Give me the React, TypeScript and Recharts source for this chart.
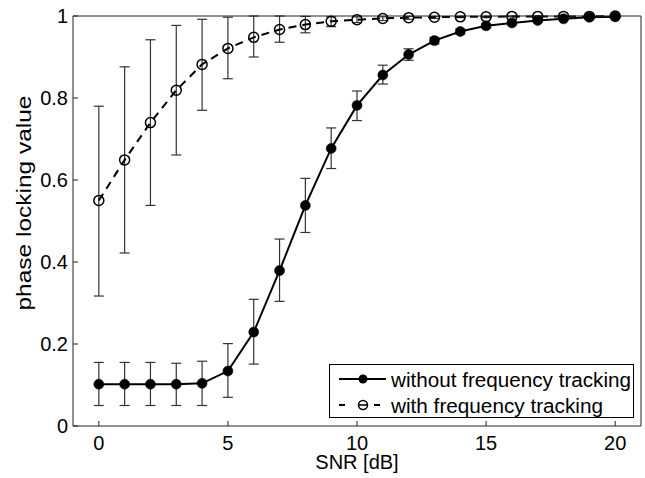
import React from "react";
import { LineChart, Line, XAxis, YAxis, ErrorBar } from "recharts";

/* Data */

const snr = [0, 1, 2, 3, 4, 5, 6, 7, 8, 9, 10, 11, 12, 13, 14, 15, 16, 17, 18, 19, 20];

// without frequency tracking (filled markers)
const plvWithout = [
  0.102, 0.102, 0.102, 0.102, 0.104, 0.134, 0.229, 0.379, 0.538, 0.677, 0.782,
  0.856, 0.906, 0.94, 0.962, 0.976, 0.983, 0.989, 0.993, 0.997, 0.998,
];
const withoutLower = [
  0.05, 0.05, 0.05, 0.05, 0.05, 0.07, 0.151, 0.304, 0.472, 0.628, 0.745,
  0.834, 0.892, 0.932, 0.956, 0.971, 0.979, 0.986, 0.991, 0.996, 0.997,
];
const withoutUpper = [
  0.155, 0.155, 0.155, 0.153, 0.158, 0.201, 0.309, 0.456, 0.604, 0.727, 0.817,
  0.88, 0.92, 0.948, 0.968, 0.98, 0.987, 0.992, 0.995, 0.998, 0.999,
];

// with frequency tracking (open markers)
const plvWith = [
  0.55, 0.649, 0.74, 0.819, 0.882, 0.921, 0.948, 0.967, 0.979, 0.987, 0.991,
  0.994, 0.996, 0.997, 0.998, 0.998, 0.999, 0.999, 0.999, 0.999, 1.0,
];
const withLower = [
  0.317, 0.422, 0.538, 0.661, 0.77, 0.847, 0.9, 0.936, 0.959, 0.974, 0.984,
  0.989, 0.992, 0.994, 0.996, 0.996, 0.998, 0.998, 0.998, 0.998, 0.999,
];
const withUpper = [
  0.78, 0.876, 0.942, 0.977, 0.992, 0.997, 1.0, 1.0, 0.999, 0.998, 0.998,
  0.998, 0.999, 0.999, 0.999, 0.999, 1.0, 1.0, 1.0, 1.0, 1.0,
];

const xTicks = [0, 5, 10, 15, 20];
const yTicks = [0, 0.2, 0.4, 0.6, 0.8, 1];

const legendLabels = ["without frequency tracking", "with frequency tracking"];

/* Table for recharts; error bars as [below, above] deltas */
const data = snr.map((x, i) => ({
  snr: x,
  without: plvWithout[i],
  withoutErr: [plvWithout[i] - withoutLower[i], withoutUpper[i] - plvWithout[i]],
  with: plvWith[i],
  withErr: [plvWith[i] - withLower[i], withUpper[i] - plvWith[i]],
}));

const FONT = '"Liberation Sans", Arial, Helvetica, sans-serif';
const AXIS = "#222";
const tickStyle = { fill: "#000", fontSize: 20, fontFamily: FONT };

function YLabel() {
  return (
    <text
      x={31}
      y={203}
      transform="rotate(-90, 31, 203)"
      textAnchor="middle"
      fontSize={20}
      fontFamily={FONT}
      fill="#000"
      textLength={215}
      lengthAdjust="spacingAndGlyphs"
    >
      phase locking value
    </text>
  );
}

function XLabel(props: any) {
  const vb = props.viewBox || { x: 0, width: 0 };
  return (
    <text
      x={vb.x + vb.width / 2}
      y={469}
      textAnchor="middle"
      fontSize={20}
      fontFamily={FONT}
      fill="#000"
    >
      SNR [dB]
    </text>
  );
}

function LegendBox() {
  return (
    <div
      style={{
        position: "absolute",
        left: 329,
        top: 364,
        width: 305,
        height: 54,
        boxSizing: "border-box",
        border: "1px solid #000",
        background: "#fff",
      }}
    >
      <svg width={303} height={52} style={{ display: "block" }}>
        {/* solid, filled */}
        <line x1={9} y1={14} x2={56} y2={14} stroke="#000" strokeWidth={2} />
        <circle cx={33} cy={14} r={4.5} fill="#000" />
        <text
          x={61}
          y={22}
          fontSize={20}
          fontFamily={FONT}
          fill="#000"
          textLength={240}
          lengthAdjust="spacingAndGlyphs"
        >
          {legendLabels[0]}
        </text>
        {/* dashed, open */}
        <line x1={9} y1={40} x2={15} y2={40} stroke="#000" strokeWidth={2} />
        <line x1={29} y1={40} x2={37} y2={40} stroke="#000" strokeWidth={1.5} />
        <line x1={44} y1={40} x2={50} y2={40} stroke="#000" strokeWidth={2} />
        <circle cx={33} cy={40} r={4.5} fill="none" stroke="#000" strokeWidth={1.5} />
        <text
          x={61}
          y={48}
          fontSize={20}
          fontFamily={FONT}
          fill="#000"
          textLength={212}
          lengthAdjust="spacingAndGlyphs"
        >
          {legendLabels[1]}
        </text>
      </svg>
    </div>
  );
}

export default function App() {
  return (
    <div
      style={{
        position: "absolute",
        left: 0,
        top: 0,
        width: 645,
        height: 478,
        background: "#fff",
        fontFamily: FONT,
      }}
    >
      <LineChart
        width={645}
        height={478}
        data={data}
        margin={{ top: 6, right: 0, bottom: 0, left: 0 }}
      >
        <XAxis
          dataKey="snr"
          type="number"
          domain={[-1, 21]}
          ticks={xTicks}
          height={52}
          tickSize={-5}
          tickMargin={15}
          tick={tickStyle}
          stroke={AXIS}
          interval={0}
          label={<XLabel />}
        />
        <XAxis
          xAxisId="top"
          dataKey="snr"
          type="number"
          orientation="top"
          domain={[-1, 21]}
          ticks={xTicks}
          height={10}
          tickSize={-5}
          tick={false}
          stroke={AXIS}
        />
        <YAxis
          type="number"
          domain={[0, 1]}
          ticks={yTicks}
          width={73}
          tickSize={-5}
          tickMargin={10}
          tick={tickStyle}
          stroke={AXIS}
          interval={0}
          tickFormatter={(v: number) => String(v)}
          label={<YLabel />}
        />
        <YAxis
          yAxisId="right"
          type="number"
          orientation="right"
          domain={[0, 1]}
          ticks={yTicks}
          width={4}
          tickSize={-5}
          tick={false}
          stroke={AXIS}
        />
        <Line
          dataKey="with"
          type="linear"
          stroke="#000"
          strokeWidth={2}
          strokeDasharray="8 6"
          dot={{ r: 5, fill: "none", stroke: "#000", strokeWidth: 1.5, strokeDasharray: "none" }}
          activeDot={false}
          isAnimationActive={false}
        >
          <ErrorBar
            dataKey="withErr"
            direction="y"
            width={5}
            stroke="#333"
            strokeWidth={1.2}
            isAnimationActive={false}
          />
        </Line>
        <Line
          dataKey="without"
          type="linear"
          stroke="#000"
          strokeWidth={2}
          dot={{ r: 5, fill: "#000", stroke: "#000", strokeWidth: 0.5 }}
          activeDot={false}
          isAnimationActive={false}
        >
          <ErrorBar
            dataKey="withoutErr"
            direction="y"
            width={5}
            stroke="#333"
            strokeWidth={1.2}
            isAnimationActive={false}
          />
        </Line>
      </LineChart>
      <LegendBox />
    </div>
  );
}
